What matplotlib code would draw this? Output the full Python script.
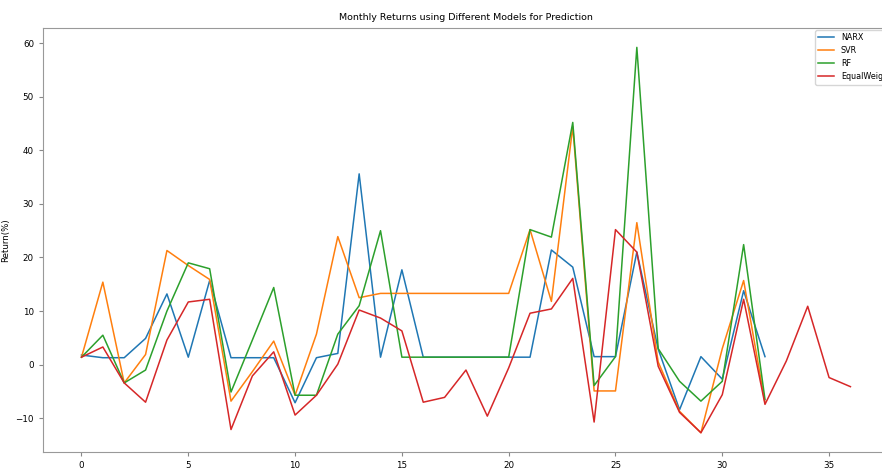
import numpy as np
import matplotlib
matplotlib.use("Agg")
import matplotlib.pyplot as plt

# monthly returns (%)
narx = [1.8, 1.3, 1.3, 4.9, 13.2, 1.4, 15.7, 1.3, 1.3, 1.3, -7.1, 1.3, 2.1, 35.6,
        1.4, 17.7, 1.4, 1.4, 1.4, 1.4, 1.4, 1.4, 21.4, 18.2, 1.5, 1.5, 21.0, 2.9,
        -8.4, 1.5, -2.7, 13.8, 1.5]
svr = [1.4, 15.4, -3.4, 1.9, 21.3, 18.5, 15.9, -6.8, -1.3, 4.4, -5.7, 5.7, 23.9, 12.5,
       13.3, 13.3, 13.3, 13.3, 13.3, 13.3, 13.3, 25.2, 11.8, 44.4, -4.9, -4.9, 26.5, 0.5,
       -8.7, -12.7, 3.0, 15.7, -7.1]
rf = [1.4, 5.5, -3.4, -1.0, 10.0, 19.0, 17.9, -5.1, 4.6, 14.4, -5.7, -5.7, 5.7, 11.0,
      25.0, 1.4, 1.4, 1.4, 1.4, 1.4, 1.4, 25.2, 23.8, 45.2, -3.9, 1.5, 59.2, 3.0,
      -3.1, -6.8, -3.1, 22.4, -6.5]
equal_weight = [1.4, 3.3, -3.4, -7.0, 4.6, 11.7, 12.2, -12.1, -2.1, 2.4, -9.4, -5.7, 0.1,
                10.2, 8.7, 6.3, -7.0, -6.1, -1.0, -9.6, -0.6, 9.6, 10.4, 16.1, -10.7, 25.2,
                21.0, -0.3, -8.9, -12.7, -5.6, 12.2, -7.4, 0.7, 10.9, -2.4, -4.1]

series = {"NARX": narx, "SVR": svr, "RF": rf, "EqualWeight": equal_weight}

fig = plt.figure(figsize=(8.82, 4.71), dpi=100)
# the original picture was cropped: the axes run past the right edge
ax = fig.add_axes([0.0488, 0.0403, 0.959, 0.900])

for name, vals in series.items():
    ax.plot(np.arange(len(vals)), vals, label=name, linewidth=1.1)

ax.set_title("Monthly Returns using Different Models for Prediction", fontsize=6.8)
ax.set_xlabel("Month", fontsize=6.2)
ax.set_ylabel("Return(%)", fontsize=6.2)
ax.tick_params(labelsize=6.3, length=3, color="#888888")
for s in ax.spines.values():
    s.set_color("#999999")
# legend also runs off the right edge in the reference
ax.legend(loc="upper left", bbox_to_anchor=(815 / 882, 1 - 30 / 471),
          bbox_transform=fig.transFigure, fontsize=5.8, borderaxespad=0)

fig.savefig("out.png", dpi=100)
